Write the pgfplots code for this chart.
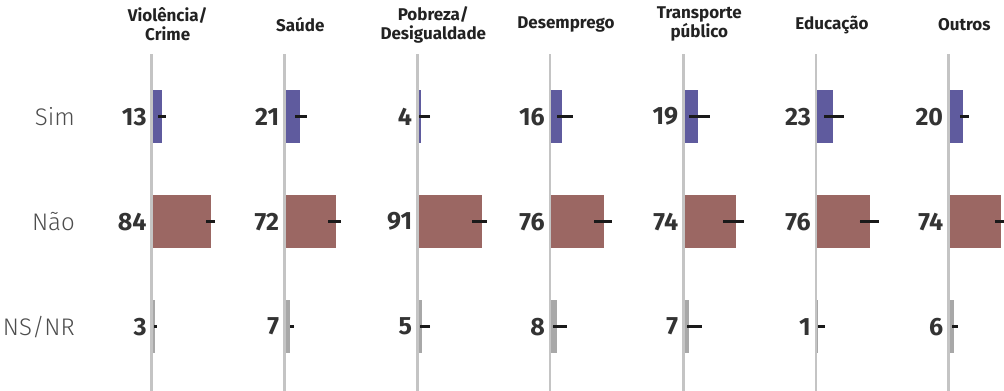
\documentclass[border=0pt]{standalone}
\usepackage{pgfplots}
\pgfplotsset{compat=1.18}
\usepackage{pgfplotstable}
\usepackage{fontspec}
\setmainfont{Fira Sans}
\newfontfamily\lightfont{Fira Sans Light}
\definecolor{simc}{HTML}{5F5B9E}
\definecolor{naoc}{HTML}{9B6763}
\definecolor{nsc}{HTML}{A8A8A8}
\definecolor{linec}{HTML}{C4C4C4}
\definecolor{valc}{HTML}{333333}
\definecolor{catc}{HTML}{4D4D4D}
\definecolor{titc}{HTML}{222222}
\definecolor{errc}{HTML}{1A1A1A}

% y: 2 = Sim, 1 = Nao, 0 = NS/NR ; em/ep = error bar extent left/right of value
\pgfplotstableread{
y v em ep z
2 13 5.5 5.7 0
1 84 8 5.2 0
0 3 1.6 3.1 0
}\tViol
\pgfplotstableread{
y v em ep z
2 21 7.3 9.6 0
1 72 10.5 7.9 0
0 7 0.8 5.7 0
}\tSaude
\pgfplotstableread{
y v em ep z
2 4 4 12.5 0
1 91 14 7 0
0 5 3.3 11.5 0
}\tPobr
\pgfplotstableread{
y v em ep z
2 16 8 14.6 0
1 76 15 11.3 0
0 8 5.9 14.3 0
}\tDesem
\pgfplotstableread{
y v em ep z
2 19 12 17.2 0
1 74 19 12 0
0 7 4.2 17.5 0
}\tTransp
\pgfplotstableread{
y v em ep z
2 23 12.7 15.5 0
1 76 15 12.3 0
0 1 0 10.3 0
}\tEduc
\pgfplotstableread{
y v em ep z
2 20 4.5 8.2 0
1 74 8.2 16 0
0 6 2.5 5.7 0
}\tOutros

\pgfplotsset{
  panel/.style={scale only axis, hide axis, clip=false,
    x=0.695bp, y=105bp, xmin=0, xmax=100, ymin=-0.6124, ymax=2.6,
    anchor=south west},
  barplot/.style={xbar, bar width=53bp, bar shift=0pt, draw=none,
    error bars/x dir=both, error bars/x explicit, error bars/error mark=none,
    error bars/error bar style={line width=2.6bp, errc}},
}
\newcommand\valfont{\fontsize{25bp}{30bp}\bfseries\selectfont}
\newcommand\titfont{\fontsize{17bp}{19bp}\bfseries\selectfont}
\newcommand\catfont{\lightfont\fontsize{24bp}{28bp}\selectfont}

\newcommand\panel[3]{%
\begin{axis}[panel, at={(#1bp+1.25bp,0bp)}]
  \draw[linec, line width=2.5bp] (axis cs:-1.8,-0.6124) -- (axis cs:-1.8,2.6);
  \addplot[barplot, fill=simc, skip coords between index={1}{3}]
    table[x=v, y=y, x error plus=ep, x error minus=em]{#2};
  \addplot[barplot, fill=naoc, skip coords between index={0}{1}, skip coords between index={2}{3}]
    table[x=v, y=y, x error plus=ep, x error minus=em]{#2};
  \addplot[barplot, fill=nsc, skip coords between index={0}{2}]
    table[x=v, y=y, x error plus=ep, x error minus=em]{#2};
  \addplot[only marks, mark=none, nodes near coords, point meta=explicit symbolic,
    nodes near coords style={anchor=east, xshift=-6.25bp, inner sep=0pt, font=\valfont, text=valc}]
    table[x=z, y=y, meta=v]{#2};
\end{axis}
\node[anchor=center, align=center, font=\titfont, text=titc] at (#1bp+16bp, 366.5bp) {#3};
}

\begin{document}
\begin{tikzpicture}
\panel{151.7}{\tViol}{Violência/\\Crime}
\panel{284.3}{\tSaude}{Saúde}
\panel{417.3}{\tPobr}{Pobreza/\\Desigualdade}
\panel{550}{\tDesem}{Desemprego}
\panel{683.3}{\tTransp}{Transporte\\público}
\panel{816}{\tEduc}{Educação}
\panel{948.3}{\tOutros}{Outros}
\node[anchor=east, font=\catfont, text=catc, inner sep=0pt] at (75bp, 274.3bp) {Sim};
\node[anchor=east, font=\catfont, text=catc, inner sep=0pt] at (75bp, 169.3bp) {Não};
\node[anchor=east, font=\catfont, text=catc, inner sep=0pt] at (75bp, 64.3bp) {NS/NR};
\pgfresetboundingbox
\path[use as bounding box] (0,0) rectangle (1004bp,391bp);
\end{tikzpicture}
\end{document}
